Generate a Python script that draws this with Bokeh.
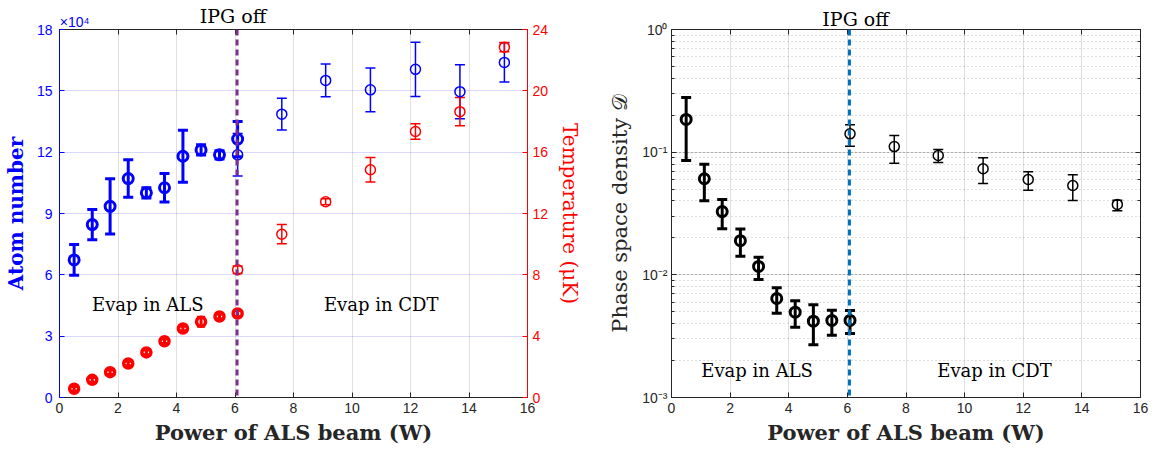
from bokeh.plotting import figure
from bokeh.models import (Range1d, LinearAxis, LogAxis, Whisker, TeeHead, ColumnDataSource,
                          Span, Label, FixedTicker, CustomJSTickFormatter)
from bokeh.layouts import row
from bokeh.embed import file_html
from bokeh.resources import INLINE

# ---------------- data ----------------
x_als = [0.50, 1.12, 1.73, 2.35, 2.97, 3.59, 4.22, 4.84, 5.47, 6.09]
x_cdt = [6.09, 7.60, 9.10, 10.63, 12.17, 13.69, 15.21]

# atom number (units of 1e4)
N_als = [6.73, 8.46, 9.35, 10.71, 10.01, 10.26, 11.80, 12.11, 11.87, 12.64]
N_als_err = [0.75, 0.74, 1.35, 0.92, 0.25, 0.70, 1.27, 0.25, 0.20, 0.86]
N_cdt = [11.87, 13.86, 15.51, 15.05, 16.05, 14.96, 16.39]
N_cdt_err = [1.04, 0.78, 0.80, 1.07, 1.33, 1.32, 0.96]

# temperature (uK)
T_als = [0.57, 1.15, 1.65, 2.22, 2.94, 3.67, 4.50, 4.94, 5.28, 5.48]
T_als_err = [0.15, 0.15, 0.15, 0.15, 0.15, 0.15, 0.15, 0.30, 0.15, 0.20]
T_cdt = [8.33, 10.65, 12.77, 14.85, 17.35, 18.64, 22.85]
T_cdt_err = [0.25, 0.63, 0.20, 0.80, 0.50, 0.92, 0.30]

# phase space density
D_als = [0.185, 0.0607, 0.0328, 0.0190, 0.0117, 0.00641, 0.00496, 0.00419, 0.00425, 0.00425]
D_als_hi = [0.279, 0.0798, 0.0411, 0.0236, 0.0139, 0.00784, 0.00614, 0.00570, 0.00515, 0.00512]
D_als_lo = [0.0855, 0.0401, 0.0237, 0.0142, 0.00916, 0.00487, 0.00374, 0.00269, 0.00322, 0.00333]
D_cdt = [0.141, 0.111, 0.094, 0.0732, 0.0599, 0.0535, 0.0375]
D_cdt_hi = [0.167, 0.137, 0.105, 0.090, 0.0692, 0.0654, 0.0406]
D_cdt_lo = [0.112, 0.0813, 0.0824, 0.0555, 0.049, 0.0404, 0.0333]

x_ticks = [0, 2, 4, 6, 8, 10, 12, 14, 16]
N_ticks = [0, 3, 6, 9, 12, 15, 18]
T_ticks = [0, 4, 8, 12, 16, 20, 24]
ipg_power = 6.07
ipg_text = "IPG off"
scale_text = "×10⁴"

# ---------------- styles ----------------
BLUE = "#0000FF"
RED = "#FF0000"
DARK = "#262626"
SERIF = "DejaVu Serif"
SANS = "Liberation Sans"


def style_axis(ax, color, labels=True):
    ax.axis_line_color = color
    ax.major_tick_line_color = color
    ax.minor_tick_line_color = color
    ax.major_tick_in = 5
    ax.major_tick_out = 0
    ax.minor_tick_in = 3
    ax.minor_tick_out = 0
    ax.major_label_text_color = color
    ax.major_label_text_font = SANS
    ax.major_label_text_font_size = "14px"
    ax.axis_label_text_font = SERIF
    ax.axis_label_text_font_size = "20px"
    ax.axis_label_text_font_style = "bold"
    ax.axis_label_text_color = color
    if not labels:
        ax.formatter = CustomJSTickFormatter(code="return '';")
        ax.major_label_standoff = 0
        ax.axis_label = None
        ax.axis_label_standoff = 0


def text_axis(label_pos, text, font, size, color, minor, standoff, line):
    # an "above" axis whose single major tick (no tick mark) carries a text;
    # the even x positions are drawn as inward (minor) tick marks
    ax = LinearAxis(ticker=FixedTicker(ticks=[label_pos], minor_ticks=minor))
    ax.axis_label = None
    ax.axis_label_standoff = 0
    ax.axis_line_color = DARK if line else None
    ax.major_tick_in = 0
    ax.major_tick_out = 0
    ax.minor_tick_in = 5
    ax.minor_tick_out = 0
    ax.minor_tick_line_color = DARK
    ax.major_label_standoff = standoff
    ax.major_label_text_font = font
    ax.major_label_text_font_size = size
    ax.major_label_text_color = color
    ax.formatter = CustomJSTickFormatter(args=dict(t=text), code="return t;")
    return ax


def whisk(src, color, lw, head, yrn="default"):
    return Whisker(source=src, base="x", upper="up", lower="lo", dimension="height",
                   line_color=color, line_width=lw, y_range_name=yrn,
                   upper_head=TeeHead(size=head, line_color=color, line_width=lw),
                   lower_head=TeeHead(size=head, line_color=color, line_width=lw))


# ---------------- left figure ----------------
p1 = figure(width=590, height=453, x_range=Range1d(0, 16), y_range=Range1d(0, 18),
            output_backend="svg", toolbar_location=None,
            min_border_left=59, min_border_right=63, min_border_top=29, min_border_bottom=56)
p1.title.visible = False
p1.extra_y_ranges = {"temp": Range1d(0, 24)}
p1.outline_line_color = DARK

p1.xaxis.ticker = FixedTicker(ticks=x_ticks)
p1.yaxis.ticker = FixedTicker(ticks=N_ticks)
style_axis(p1.xaxis[0], DARK)
style_axis(p1.yaxis[0], BLUE)
p1.xaxis.axis_label = "Power of ALS beam (W)"
p1.xaxis.axis_label_text_font_size = "21px"
p1.yaxis.axis_label = "Atom number"
p1.xaxis.major_label_standoff = 5
p1.xaxis.axis_label_standoff = 4
p1.yaxis.major_label_standoff = 7
p1.yaxis.axis_label_standoff = 6

ax_r = LinearAxis(y_range_name="temp", ticker=FixedTicker(ticks=T_ticks),
                  axis_label="Temperature (μK)")
style_axis(ax_r, RED)
ax_r.axis_label_text_font_style = "normal"
ax_r.major_label_standoff = 5
ax_r.axis_label_standoff = 7
p1.add_layout(ax_r, "right")

# inner top axis: tick marks + blue scale factor; outer top axis: "IPG off"
# pulled back down onto the frame edge with a negative standoff
p1.add_layout(text_axis(0.52, scale_text, SANS, "14px", BLUE, x_ticks, 0, True), "above")
p1.add_layout(text_axis(5.93, ipg_text, SERIF, "19px", "black", [], -16, False), "above")

p1.xgrid.grid_line_color = DARK
p1.xgrid.grid_line_alpha = 0.15
p1.ygrid.grid_line_color = BLUE
p1.ygrid.grid_line_alpha = 0.15

sN_als = ColumnDataSource(dict(x=x_als, y=N_als,
                               up=[v + e for v, e in zip(N_als, N_als_err)],
                               lo=[v - e for v, e in zip(N_als, N_als_err)]))
sN_cdt = ColumnDataSource(dict(x=x_cdt, y=N_cdt,
                               up=[v + e for v, e in zip(N_cdt, N_cdt_err)],
                               lo=[v - e for v, e in zip(N_cdt, N_cdt_err)]))
sT_als = ColumnDataSource(dict(x=x_als, y=T_als,
                               up=[v + e for v, e in zip(T_als, T_als_err)],
                               lo=[v - e for v, e in zip(T_als, T_als_err)]))
sT_cdt = ColumnDataSource(dict(x=x_cdt, y=T_cdt,
                               up=[v + e for v, e in zip(T_cdt, T_cdt_err)],
                               lo=[v - e for v, e in zip(T_cdt, T_cdt_err)]))

p1.add_layout(whisk(sN_cdt, BLUE, 1.5, 10))
p1.add_layout(whisk(sT_cdt, RED, 1.5, 10, "temp"))
p1.add_layout(whisk(sN_als, BLUE, 3, 10))
p1.add_layout(whisk(sT_als, RED, 3, 8, "temp"))

p1.scatter("x", "y", source=sN_cdt, marker="circle", size=10, fill_color=None,
           line_color=BLUE, line_width=1.5)
p1.scatter("x", "y", source=sT_cdt, marker="circle", size=10, fill_color=None,
           line_color=RED, line_width=1.5, y_range_name="temp")
p1.scatter("x", "y", source=sN_als, marker="circle", size=10, fill_color=None,
           line_color=BLUE, line_width=3)
p1.scatter("x", "y", source=sT_als, marker="circle", size=9, fill_color=None,
           line_color=RED, line_width=3.5, y_range_name="temp")

p1.add_layout(Span(location=ipg_power, dimension="height", line_color="#7E2F8E",
                   line_width=3, line_dash="6 4"))

p1.add_layout(Label(x=3.02, y=4.55, text="Evap in ALS", text_align="center",
                    text_baseline="middle", text_font=SERIF, text_font_size="18px",
                    text_color="black"))
p1.add_layout(Label(x=11.0, y=4.55, text="Evap in CDT", text_align="center",
                    text_baseline="middle", text_font=SERIF, text_font_size="18px",
                    text_color="black"))

# ---------------- right figure ----------------
p2 = figure(width=565, height=453, x_range=Range1d(0, 16), y_range=Range1d(1e-3, 1),
            y_axis_type="log", output_backend="svg", toolbar_location=None,
            min_border_left=81, min_border_right=15, min_border_top=29, min_border_bottom=56)
p2.title.visible = False
p2.outline_line_color = DARK

p2.xaxis.ticker = FixedTicker(ticks=x_ticks)
style_axis(p2.xaxis[0], DARK)
style_axis(p2.yaxis[0], DARK)
p2.xaxis.axis_label = "Power of ALS beam (W)"
p2.xaxis.axis_label_text_font_size = "21px"
p2.yaxis.axis_label = "Phase space density 𝒟"
p2.yaxis.axis_label_text_font_style = "normal"
p2.yaxis.axis_label_text_font_size = "21px"
p2.xaxis.major_label_standoff = 5
p2.xaxis.axis_label_standoff = 4
p2.yaxis.major_label_standoff = 4
p2.yaxis.axis_label_standoff = 7
p2.yaxis.formatter = CustomJSTickFormatter(code="""
const e = Math.round(Math.log10(tick));
const sup = {'-':'\u207b','0':'\u2070','1':'\u00b9','2':'\u00b2','3':'\u00b3','4':'\u2074',
             '5':'\u2075','6':'\u2076','7':'\u2077','8':'\u2078','9':'\u2079'};
return '10' + String(e).split('').map(c => sup[c]).join('');
""")

ax2_r = LogAxis()
style_axis(ax2_r, DARK, labels=False)
p2.add_layout(ax2_r, "right")
p2.add_layout(text_axis(6.28, ipg_text, SERIF, "19px", "black", x_ticks, 0, True), "above")

p2.xgrid.grid_line_color = DARK
p2.xgrid.grid_line_alpha = 0.15
p2.ygrid.grid_line_color = DARK
p2.ygrid.grid_line_alpha = 0.15
p2.ygrid.minor_grid_line_color = DARK
p2.ygrid.minor_grid_line_alpha = 0.3
p2.ygrid.minor_grid_line_dash = "1 3"

sD_als = ColumnDataSource(dict(x=x_als, y=D_als, up=D_als_hi, lo=D_als_lo))
sD_cdt = ColumnDataSource(dict(x=x_cdt, y=D_cdt, up=D_cdt_hi, lo=D_cdt_lo))
p2.add_layout(whisk(sD_als, "black", 3, 10))
p2.add_layout(whisk(sD_cdt, "black", 1.5, 10))
p2.scatter("x", "y", source=sD_als, marker="circle", size=10, fill_color=None,
           line_color="black", line_width=3)
p2.scatter("x", "y", source=sD_cdt, marker="circle", size=10, fill_color=None,
           line_color="black", line_width=1.5)

p2.add_layout(Span(location=ipg_power, dimension="height", line_color="#0072BD",
                   line_width=3, line_dash="6 4"))
p2.add_layout(Label(x=2.92, y=0.00166, text="Evap in ALS", text_align="center",
                    text_baseline="middle", text_font=SERIF, text_font_size="18px",
                    text_color="black"))
p2.add_layout(Label(x=11.02, y=0.00166, text="Evap in CDT", text_align="center",
                    text_baseline="middle", text_font=SERIF, text_font_size="18px",
                    text_color="black"))

layout = row(p1, p2)
open("out.html", "w").write(file_html(layout, INLINE))
